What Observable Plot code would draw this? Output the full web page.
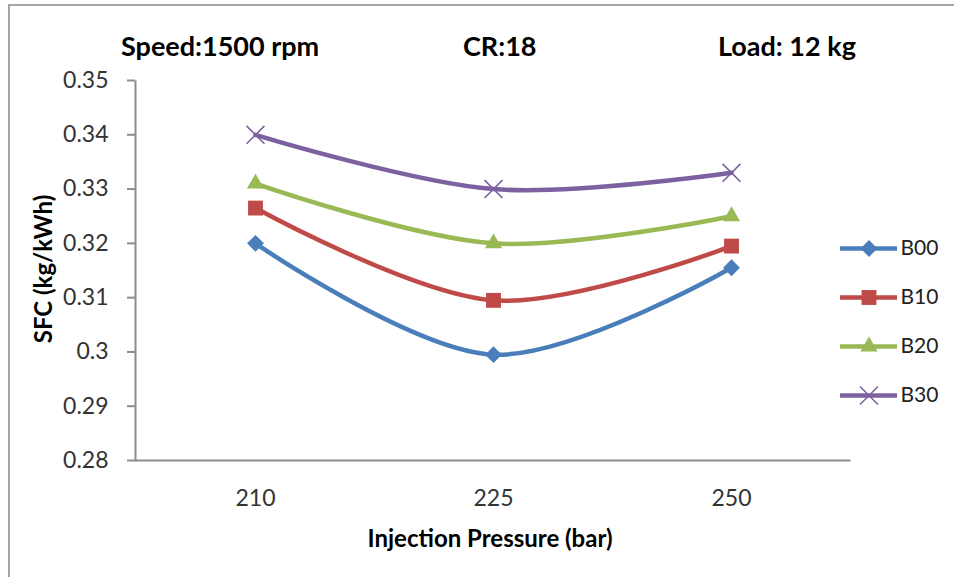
<!DOCTYPE html>
<html><head><meta charset="utf-8">
<script src="https://cdn.jsdelivr.net/npm/d3@7"></script>
<script src="https://cdn.jsdelivr.net/npm/@observablehq/plot@0.6"></script>
<style>
body{margin:0;background:#fff;}
#wrap{position:relative;width:954px;height:577px;font-family:Lato,"Open Sans",sans-serif;overflow:hidden;background:#fff}
#border{position:absolute;left:8px;top:4px;width:1000px;height:700px;border-left:2px solid #a6a6a6;border-top:2px solid #a6a6a6;}
.hdr{position:absolute;top:45px;transform:translateY(-50%);font-weight:bold;font-size:27px;color:#000;white-space:nowrap;line-height:1}
.ttl{position:absolute;font-weight:bold;font-size:24px;color:#000;white-space:nowrap;line-height:1}
#chart{position:absolute;left:0;top:0}
#legend{position:absolute;left:830px;top:220px}
</style></head>
<body><div id="wrap"><div id="border"></div><div id="chart"></div><div id="legend"></div></div>
<script>
const pressures = ["210", "225", "250"];
const series = ["B00", "B10", "B20", "B30"];
const b00 = [0.320, 0.2995, 0.3155];
const b10 = [0.3265, 0.3095, 0.3195];
const b20 = [0.331, 0.320, 0.325];
const b30 = [0.340, 0.330, 0.333];
const yTicks = [0.28, 0.29, 0.30, 0.31, 0.32, 0.33, 0.34, 0.35];
const headerTexts = ["Speed:1500 rpm", "CR:18", "Load: 12 kg"];
const xTitle = "Injection Pressure (bar)";
const yTitle = "SFC (kg/kWh)";
const colors = ["#4A7EBB", "#BE4B48", "#98B954", "#7D60A0"];
const symbols = ["diamond2", "square", "triangle", "times"];
const radii = [7.6, 8.4, 6.4, 8.2];

const values = [b00, b10, b20, b30];
const rows = [];
series.forEach((s, i) => pressures.forEach((p, j) => rows.push({s, p, v: values[i][j]})));

const wrap = document.getElementById("wrap");
const hdrLeft = [121, 463, 718];
headerTexts.forEach((t, i) => {
  const d = document.createElement("div");
  d.className = "hdr"; d.textContent = t; d.style.left = hdrLeft[i] + "px";
  wrap.appendChild(d);
});
const xt = document.createElement("div");
xt.className = "ttl"; xt.textContent = xTitle;
xt.style.left = "490px"; xt.style.top = "538px"; xt.style.transform = "translate(-50%,-50%)";
wrap.appendChild(xt);
const yt = document.createElement("div");
yt.className = "ttl"; yt.textContent = yTitle;
yt.style.left = "43px"; yt.style.top = "269px"; yt.style.transform = "translate(-50%,-50%) rotate(-90deg)";
wrap.appendChild(yt);

const W = 954, H = 577, ML = 135, MR = 104, MT = 80, MB = 117;
const fw = W - ML - MR, fh = H - MT - MB;

const dotMarks = series.map((s, i) => {
  const data = rows.filter(d => d.s === s);
  return symbols[i] === "times"
    ? Plot.dot(data, {x: "p", y: "v", symbol: symbols[i], r: radii[i], stroke: colors[i], strokeWidth: 1.6, fill: "none"})
    : Plot.dot(data, {x: "p", y: "v", symbol: symbols[i], r: radii[i], fill: colors[i], stroke: "none"});
});

const chart = Plot.plot({
  width: W, height: H, marginLeft: ML, marginRight: MR, marginTop: MT, marginBottom: MB,
  style: {fontFamily: "Lato, 'Open Sans', sans-serif", fontSize: "23px", background: "transparent", color: "#333"},
  x: {type: "point", domain: pressures, padding: 0.5},
  y: {domain: [0.28, 0.35]},
  color: {domain: series, range: colors},
  marks: [
    Plot.frame({stroke: "#8c8c8c", strokeWidth: 2, fill: "none", strokeDasharray: `0 ${fw + fh} ${fw + fh}`}),
    Plot.axisY({ticks: yTicks, tickSize: 8, tickPadding: 19, tickFormat: d => String(+d.toFixed(2)), stroke: "#8c8c8c", strokeWidth: 2, color: "#333", label: null}),
    Plot.axisX({tickSize: 0, tickPadding: 29, color: "#333", label: null}),
    Plot.line(rows, {x: "p", y: "v", z: "s", stroke: "s", strokeWidth: 4.5, curve: "catmull-rom"}),
    ...dotMarks
  ]
});
document.getElementById("chart").appendChild(chart);

const legRows = series.map((s, i) => ({s, i}));
const legend = Plot.plot({
  width: 124, height: 200, margin: 0,
  style: {fontFamily: "Lato, 'Open Sans', sans-serif", fontSize: "21px", background: "transparent", color: "#222"},
  x: {domain: [0, 1], range: [10, 67], axis: null},
  y: {type: "point", domain: series, range: [28, 175], padding: 0, axis: null},
  marks: [
    Plot.ruleY(legRows, {y: "s", x1: 0, x2: 1, stroke: d => colors[d.i], strokeWidth: 4.5}),
    ...legRows.map(d => symbols[d.i] === "times"
      ? Plot.dot([d], {x: 0.5, y: "s", symbol: symbols[d.i], r: radii[d.i], stroke: colors[d.i], strokeWidth: 1.6, fill: "none"})
      : Plot.dot([d], {x: 0.5, y: "s", symbol: symbols[d.i], r: radii[d.i], fill: colors[d.i], stroke: "none"})),
    Plot.text(legRows, {x: 1, y: "s", text: "s", textAnchor: "start", dx: 3, fill: "#222"})
  ]
});
document.getElementById("legend").appendChild(legend);
</script></body></html>
